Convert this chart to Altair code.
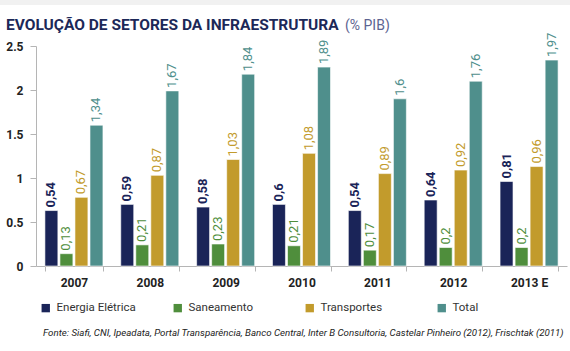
import altair as alt
import pandas as pd

years = ["2007", "2008", "2009", "2010", "2011", "2012", "2013 E"]
series = ["Energia Elétrica", "Saneamento", "Transportes", "Total"]
colors = ["#1a2458", "#4f8e3c", "#c29b2c", "#4f8f8c"]

energia_bar = [0.63, 0.70, 0.67, 0.70, 0.63, 0.75, 0.96]
saneamento_bar = [0.14, 0.24, 0.25, 0.23, 0.18, 0.21, 0.21]
transportes_bar = [0.78, 1.03, 1.21, 1.28, 1.05, 1.09, 1.13]
total_bar = [1.60, 1.99, 2.18, 2.26, 1.90, 2.10, 2.34]

# printed value labels
energia_lbl = [0.54, 0.59, 0.58, 0.6, 0.54, 0.64, 0.81]
saneamento_lbl = [0.13, 0.21, 0.23, 0.21, 0.17, 0.2, 0.2]
transportes_lbl = [0.67, 0.87, 1.03, 1.08, 0.89, 0.92, 0.96]
total_lbl = [1.34, 1.67, 1.84, 1.89, 1.6, 1.76, 1.97]

title_main = "EVOLUÇÃO DE SETORES DA INFRAESTRUTURA"
title_unit = "(% PIB)"
source = ("Fonte: Siafi, CNI, Ipeadata, Portal Transparência, Banco Central, Inter B Consultoria, "
          "Castelar Pinheiro (2012), Frischtak (2011)")

rows = []
for s, bars, lbls in zip(series,
                         [energia_bar, saneamento_bar, transportes_bar, total_bar],
                         [energia_lbl, saneamento_lbl, transportes_lbl, total_lbl]):
    for y, b, l in zip(years, bars, lbls):
        rows.append({"ano": y, "serie": s, "valor": b, "rotulo": f"{l:g}".replace(".", ",")})
df = pd.DataFrame(rows)

FONT = "Roboto"
W, H = 531, 220

x_enc = alt.X("ano:N", sort=years, title=None,
              scale=alt.Scale(paddingInner=0.235, paddingOuter=0.1175),
              axis=alt.Axis(tickBand="extent", labelAngle=0, labelFontWeight="bold",
                            labelFontSize=12, labelColor="#222", labelFont=FONT,
                            labelPadding=6, tickSize=5, tickColor="#b5b5b5",
                            domainColor="#b5b5b5"))
xo_enc = alt.XOffset("serie:N", sort=series, scale=alt.Scale(paddingInner=0.138, paddingOuter=0))
y_enc = alt.Y("valor:Q", title=None,
              scale=alt.Scale(domain=[0, 2.5], nice=False),
              axis=alt.Axis(values=[0, 0.5, 1, 1.5, 2, 2.5], format="~g", grid=False,
                            labelFontWeight="bold", labelFontSize=12, labelColor="#222",
                            labelFont=FONT, labelPadding=7, tickSize=6,
                            tickColor="#b5b5b5", domainColor="#b5b5b5"))
color_enc = alt.Color("serie:N", sort=series, title=None,
                      scale=alt.Scale(domain=series, range=colors),
                      legend=alt.Legend(orient="none", legendX=4, legendY=256,
                                        direction="horizontal", columns=4, gridAlign="all",
                                        columnPadding=36, symbolType="square", symbolSize=70,
                                        symbolStrokeWidth=0, labelFontSize=11.5, labelFont=FONT,
                                        labelColor="#333", labelOffset=5))

bars = alt.Chart(df).mark_bar(stroke="#ffffff", strokeWidth=0.6).encode(
    x=x_enc, xOffset=xo_enc, y=y_enc, color=color_enc)

lbl_base = alt.Chart(df).mark_text(angle=270, align="left", baseline="middle", dx=3,
                                   fontSize=13, font=FONT).encode(
    x=alt.X("ano:N", sort=years), xOffset=alt.XOffset("serie:N", sort=series),
    y="valor:Q", text="rotulo:N",
    color=alt.Color("serie:N", sort=series, legend=None))
lbl_bold = lbl_base.transform_filter(alt.datum.serie == "Energia Elétrica").mark_text(
    angle=270, align="left", baseline="middle", dx=3, fontSize=13, font=FONT, fontWeight="bold")
lbl_norm = lbl_base.transform_filter(alt.datum.serie != "Energia Elétrica")

one = pd.DataFrame({"t1": [title_main], "t2": [title_unit], "src": [source]})
strip = alt.Chart(one).mark_rect(color="#f1f1f1").encode(
    x=alt.value(-36), x2=alt.value(W + 3), y=alt.value(-46), y2=alt.value(-41))
t1 = alt.Chart(one).mark_text(align="left", baseline="alphabetic", fontSize=15.5,
                              fontWeight="bold", font=FONT, color="#1c2858").encode(
    x=alt.value(-30), y=alt.value(-16), text="t1:N")
t2 = alt.Chart(one).mark_text(align="left", baseline="alphabetic", fontSize=14,
                              font=FONT, color="#5d6391").encode(
    x=alt.value(309), y=alt.value(-16), text="t2:N")
src = alt.Chart(one).mark_text(align="left", baseline="middle", fontSize=9.7, fontStyle="italic",
                               font=FONT, color="#222").encode(
    x=alt.value(7), y=alt.value(287), text="src:N")

chart = alt.layer(strip, bars, lbl_bold, lbl_norm, t1, t2, src).properties(
    width=W, height=H,
    autosize=alt.AutoSizeParams(type="none"),
    padding={"left": 36, "top": 46, "right": 3, "bottom": 85},
    background="#ffffff",
).configure_view(stroke=None)

chart.save("out.html", embed_options={"renderer": "svg", "actions": False})
